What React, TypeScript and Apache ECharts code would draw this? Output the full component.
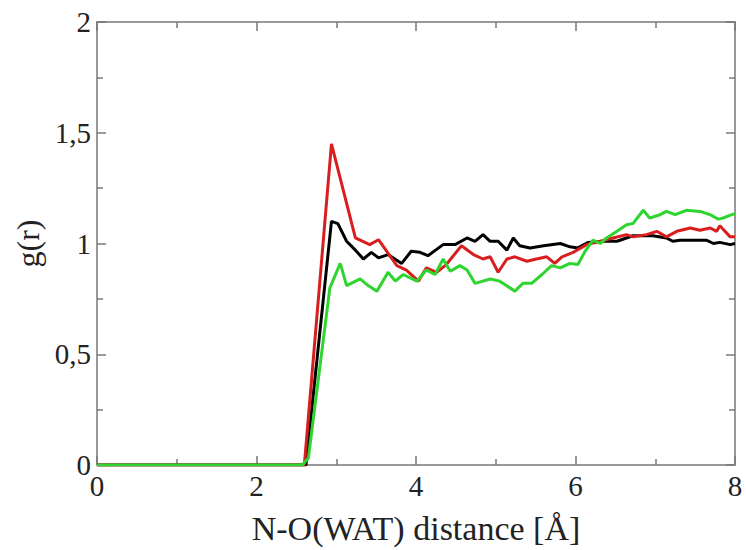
import React, { useEffect, useRef } from "react";
import * as echarts from "echarts";

const xTicks = [0, 2, 4, 6, 8];
const yTicks = [0, 0.5, 1, 1.5, 2];

const black: [number, number][] = [
  [0, 0], [2.62, 0], [2.94, 1.1], [3.02, 1.09], [3.13, 1.01], [3.24, 0.97], [3.34, 0.93], [3.44, 0.96],
  [3.53, 0.935], [3.65, 0.95], [3.82, 0.91], [3.94, 0.965], [4.05, 0.96], [4.15, 0.945], [4.34, 0.995],
  [4.49, 0.995], [4.64, 1.025], [4.74, 1.01], [4.84, 1.04], [4.93, 1.01], [5.03, 1.01], [5.14, 0.97],
  [5.22, 1.025], [5.3, 0.99], [5.43, 0.98], [5.6, 0.99], [5.81, 1.0], [5.93, 0.985], [6.03, 0.98],
  [6.16, 1.005], [6.35, 1.01], [6.52, 1.01], [6.72, 1.035], [6.97, 1.035], [7.14, 1.025], [7.22, 1.01],
  [7.31, 1.015], [7.47, 1.015], [7.64, 1.015], [7.73, 1.0], [7.81, 1.005], [7.94, 0.995], [8, 1.0],
];

const red: [number, number][] = [
  [0, 0], [2.6, 0], [2.94, 1.45], [3.24, 1.025], [3.42, 0.995], [3.53, 1.017], [3.76, 0.9], [3.88, 0.88],
  [4.03, 0.83], [4.13, 0.89], [4.26, 0.87], [4.38, 0.905], [4.57, 0.99], [4.72, 0.95], [4.84, 0.93],
  [4.93, 0.94], [5.03, 0.87], [5.14, 0.93], [5.24, 0.94], [5.39, 0.92], [5.51, 0.93], [5.64, 0.94],
  [5.74, 0.91], [5.83, 0.94], [5.97, 0.96], [6.14, 0.995], [6.31, 1.01], [6.47, 1.025], [6.64, 1.04],
  [6.72, 1.03], [6.89, 1.04], [7.02, 1.055], [7.14, 1.03], [7.27, 1.055], [7.44, 1.07], [7.56, 1.06],
  [7.69, 1.07], [7.77, 1.055], [7.81, 1.08], [7.94, 1.03], [8, 1.03],
];

const green: [number, number][] = [
  [0, 0], [2.57, 0], [2.65, 0.03], [2.92, 0.8], [3.05, 0.91], [3.13, 0.81], [3.3, 0.84], [3.4, 0.81],
  [3.51, 0.785], [3.65, 0.87], [3.74, 0.83], [3.84, 0.86], [4.01, 0.83], [4.13, 0.88], [4.24, 0.86],
  [4.34, 0.93], [4.43, 0.875], [4.55, 0.9], [4.64, 0.88], [4.74, 0.82], [4.93, 0.84], [5.05, 0.83],
  [5.24, 0.785], [5.34, 0.82], [5.45, 0.82], [5.58, 0.86], [5.7, 0.9], [5.81, 0.89], [5.93, 0.91],
  [6.03, 0.905], [6.12, 0.965], [6.22, 1.015], [6.31, 1.0], [6.39, 1.025], [6.52, 1.055], [6.64, 1.085],
  [6.72, 1.09], [6.85, 1.15], [6.93, 1.115], [7.06, 1.13], [7.14, 1.145], [7.25, 1.13], [7.39, 1.15],
  [7.56, 1.145], [7.69, 1.13], [7.79, 1.11], [7.85, 1.115], [7.96, 1.13], [8, 1.135],
];

const FONT = "Liberation Serif";
const AXIS_COLOR = "#777";

export default function App() {
  const ref = useRef<HTMLDivElement>(null);
  useEffect(() => {
    if (!ref.current) return;
    const chart = echarts.init(ref.current, undefined, { renderer: "svg" });
    const axisCommon = {
      axisLine: { show: true, onZero: false, lineStyle: { color: AXIS_COLOR, width: 1.5 } },
      axisTick: { show: true, inside: true, length: 9, lineStyle: { color: AXIS_COLOR, width: 1.5 } },
      minorTick: { show: true, splitNumber: 2, length: 6, lineStyle: { color: AXIS_COLOR, width: 1.5 } },
      splitLine: { show: false },
    };
    chart.setOption({
      animation: false,
      backgroundColor: "#fff",
      grid: { left: 97, right: 11, top: 22, bottom: 81, containLabel: false },
      xAxis: [
        {
          type: "value", min: xTicks[0], max: xTicks[xTicks.length - 1], interval: 2,
          ...axisCommon,
          axisLabel: { color: "#222", fontFamily: FONT, fontSize: 29, margin: 6 },
          name: "N-O(WAT) distance [Å]",
          nameLocation: "middle", nameGap: 46,
          nameTextStyle: { color: "#222", fontFamily: FONT, fontSize: 34 },
        },
        {
          type: "value", position: "top", min: 0, max: 8, interval: 2,
          ...axisCommon, axisLabel: { show: false },
        },
      ],
      yAxis: [
        {
          type: "value", min: yTicks[0], max: yTicks[yTicks.length - 1], interval: 0.5,
          ...axisCommon,
          axisLabel: {
            color: "#222", fontFamily: FONT, fontSize: 29, margin: 6,
            formatter: (v: number) => String(v).replace(".", ","),
          },
          name: "g(r)", nameLocation: "middle", nameGap: 48,
          nameTextStyle: { color: "#222", fontFamily: FONT, fontSize: 32 },
        },
        {
          type: "value", position: "right", min: 0, max: 2, interval: 0.5,
          ...axisCommon, axisLabel: { show: false },
        },
      ],
      series: [
        { type: "line", data: black, showSymbol: false, lineStyle: { color: "#000", width: 3 }, itemStyle: { color: "#000" } },
        { type: "line", data: red, showSymbol: false, lineStyle: { color: "#d81e1e", width: 3 }, itemStyle: { color: "#d81e1e" } },
        { type: "line", data: green, showSymbol: false, lineStyle: { color: "#2fd52f", width: 3 }, itemStyle: { color: "#2fd52f" } },
      ],
    });
    return () => chart.dispose();
  }, []);
  return <div ref={ref} style={{ width: 746, height: 550, position: "absolute", left: 0, top: 0 }} />;
}
